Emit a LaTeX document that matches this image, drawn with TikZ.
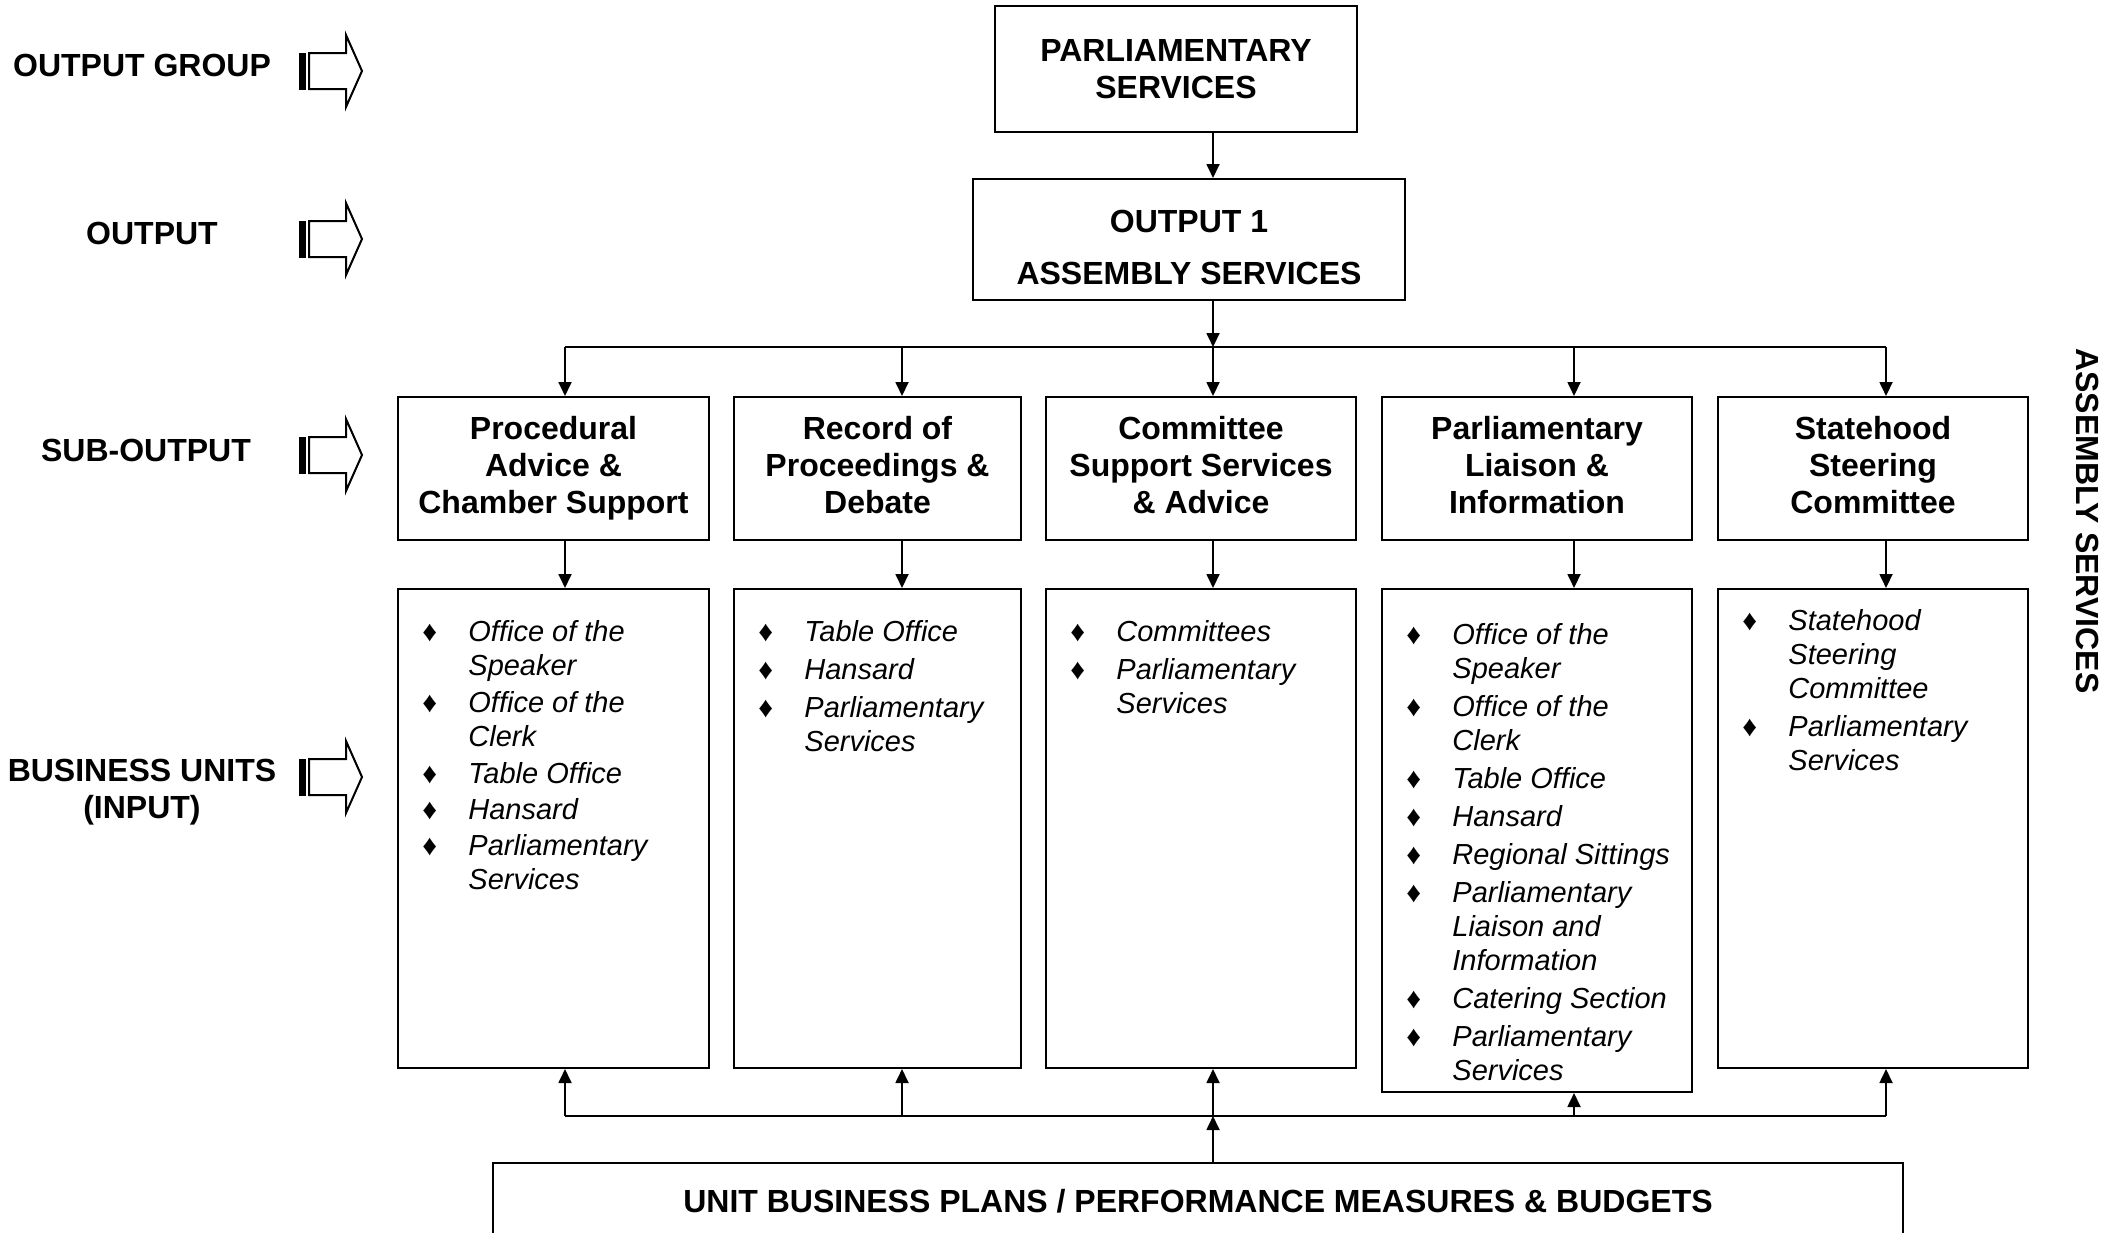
\documentclass[tikz,border=0pt]{standalone}
\usepackage{fontspec}
\setmainfont{Liberation Sans}
\usetikzlibrary{arrows.meta}

\newcommand{\unitmark}{\textup{♦}}

\tikzset{
  outbox/.style={draw, line width=1pt, inner sep=0pt, align=center,
    font=\bfseries\fontsize{16}{18.5}\selectfont},
  subbox/.style={outbox, anchor=north west, minimum height=71.5pt,
    execute at end node=\vphantom{p}},
  unitbox/.style={draw, line width=1pt, inner sep=0pt, anchor=north west},
  unitlist/.style={anchor=base west, inner sep=0pt,
    font=\itshape\fontsize{14.5}{17}\selectfont},
  rowlabel/.style={align=center, inner sep=0pt,
    font=\bfseries\fontsize{16}{18.5}\selectfont},
  link/.style={line width=0.9pt, -{Triangle[length=7pt,width=6.5pt]}},
}

\begin{document}
\begin{tikzpicture}[x=0.5pt,y=-0.5pt]
\useasboundingbox (0,0) rectangle (2118,1232);
\clip (0,0) rectangle (2118,1232);

% row labels and their arrows
\node[rowlabel] (lgroup) at (142,65) {OUTPUT GROUP};
\node[rowlabel] (lout) at (152,233) {OUTPUT};
\node[rowlabel] (lsub) at (146,450) {SUB-OUTPUT};
\node[rowlabel] (lunits) at (142,792) {BUSINESS UNITS\\(INPUT)};
\foreach \y in {71,239,455,777} {
  \fill (299,\y-18.5) rectangle (306,\y+18.5);
  \draw[line width=1pt] (309,\y-18) -- (346,\y-18) -- (346,\y-36) -- (362,\y)
    -- (346,\y+36) -- (346,\y+18) -- (309,\y+18) -- cycle;
}

% output group and output
\node[outbox, minimum width=181pt, minimum height=63pt] (group) at (1176,69) {PARLIAMENTARY\\SERVICES};
\node[outbox, minimum width=216pt, minimum height=60.5pt,
  font=\bfseries\fontsize{16}{26}\selectfont] (out1) at (1189,239.5) {\rule{0pt}{19.5pt}OUTPUT 1\\ASSEMBLY SERVICES};

% sub-outputs
\node[subbox, minimum width=155.5pt] (s1) at (397,396) {Procedural\\Advice \&\\Chamber Support};
\node[subbox, minimum width=143.5pt] (s2) at (733,396) {Record of\\Proceedings \&\\Debate};
\node[subbox, minimum width=155pt] (s3) at (1045,396) {Committee\\Support Services\\\& Advice};
\node[subbox, minimum width=155pt] (s4) at (1381,396) {Parliamentary\\Liaison \&\\Information};
\node[subbox, minimum width=155pt] (s5) at (1717,396) {Statehood\\Steering\\Committee};

% business units
\node[unitbox, minimum width=155.5pt, minimum height=239.5pt] (b1) at (397,588) {};
\node[unitbox, minimum width=143.5pt, minimum height=239.5pt] (b2) at (733,588) {};
\node[unitbox, minimum width=155pt, minimum height=239.5pt] (b3) at (1045,588) {};
\node[unitbox, minimum width=155pt, minimum height=251.5pt] (b4) at (1381,588) {};
\node[unitbox, minimum width=155pt, minimum height=239.5pt] (b5) at (1717,588) {};

\node[unitlist] (list1) at (422,641) {\begin{tabular}[t]{@{}p{23pt}@{}l@{}}
\unitmark & Office of the\\ & Speaker\\[1.5pt]
\unitmark & Office of the\\ & Clerk\\[1.5pt]
\unitmark & Table Office\\[1pt]
\unitmark & Hansard\\[1pt]
\unitmark & Parliamentary\\ & Services
\end{tabular}};
\node[unitlist] (list2) at (758,641) {\begin{tabular}[t]{@{}p{23pt}@{}l@{}}
\unitmark & Table Office\\[2pt]
\unitmark & Hansard\\[2pt]
\unitmark & Parliamentary\\ & Services
\end{tabular}};
\node[unitlist] (list3) at (1070,641) {\begin{tabular}[t]{@{}p{23pt}@{}l@{}}
\unitmark & Committees\\[2pt]
\unitmark & Parliamentary\\ & Services
\end{tabular}};
\node[unitlist] (list4) at (1406,644) {\begin{tabular}[t]{@{}p{23pt}@{}l@{}}
\unitmark & Office of the\\ & Speaker\\[2pt]
\unitmark & Office of the\\ & Clerk\\[2pt]
\unitmark & Table Office\\[2pt]
\unitmark & Hansard\\[2pt]
\unitmark & Regional Sittings\\[2pt]
\unitmark & Parliamentary\\ & Liaison and\\ & Information\\[2pt]
\unitmark & Catering Section\\[2pt]
\unitmark & Parliamentary\\ & Services
\end{tabular}};
\node[unitlist] (list5) at (1742,630) {\begin{tabular}[t]{@{}p{23pt}@{}l@{}}
\unitmark & Statehood\\ & Steering\\ & Committee\\[2pt]
\unitmark & Parliamentary\\ & Services
\end{tabular}};

% plans
\node[outbox, minimum width=705pt, minimum height=38pt] (plans) at (1198,1201) {UNIT BUSINESS PLANS / PERFORMANCE MEASURES \& BUDGETS};

\node[rowlabel, rotate=-90] (side) at (2087,521) {ASSEMBLY SERVICES};

% connectors
\foreach \c/\x in {1/565,2/902,3/1213,4/1574,5/1886} {
  \coordinate (top\c) at (\x,347);
  \coordinate (bot\c) at (\x,1116);
}
\draw[link] (group.south -| top3) -- (out1.north -| top3);
\draw[link] (out1.south -| top3) -- (top3);
\draw[line width=0.9pt] (top1) -- (top5);
\draw[line width=0.9pt] (bot1) -- (bot5);
\foreach \c in {1,...,5} {
  \draw[link] (top\c) -- (s\c.north -| top\c);
  \draw[link] (s\c.south -| top\c) -- (b\c.north -| top\c);
  \draw[link] (bot\c) -- (b\c.south -| bot\c);
}
\draw[link] (plans.north -| bot3) -- (bot3);
\end{tikzpicture}
\end{document}
